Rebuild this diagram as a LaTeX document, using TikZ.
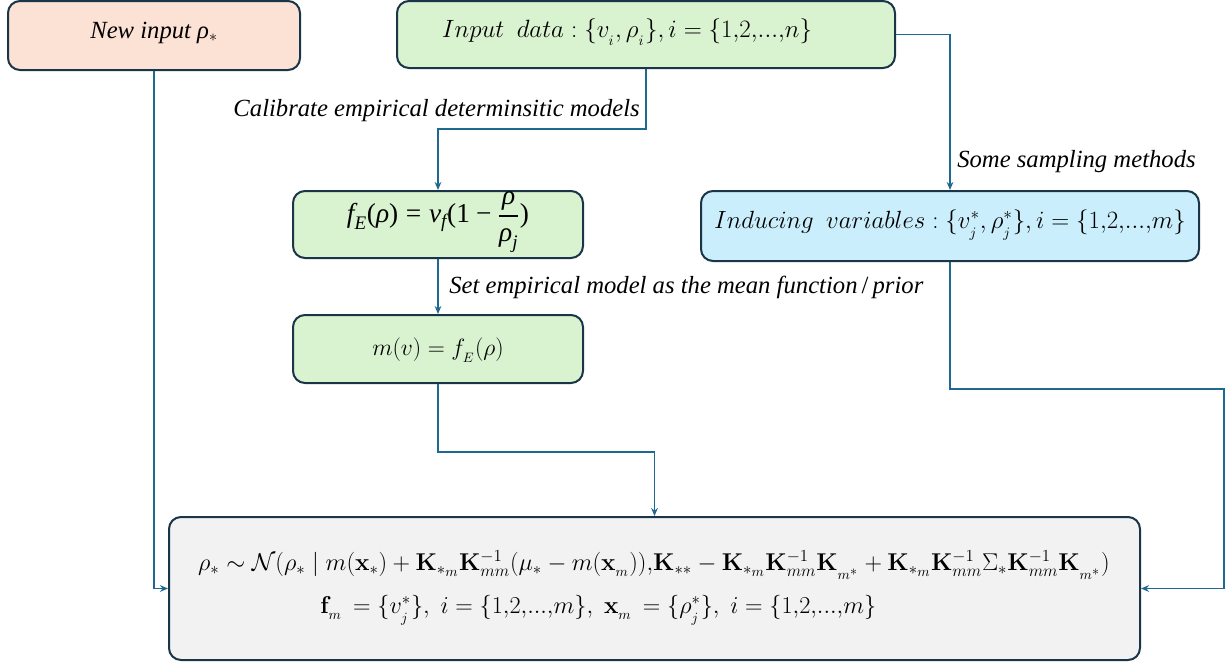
\documentclass[tikz,border=0pt]{standalone}
\usepackage{amsmath}
\usepackage[no-math]{fontspec}
\setmainfont{Liberation Serif}
\usetikzlibrary{arrows.meta}
\definecolor{bordc}{HTML}{1A3547}
\definecolor{connc}{HTML}{1F6890}
\definecolor{peach}{HTML}{FBE2D5}
\definecolor{lgreen}{HTML}{D9F2D0}
\definecolor{lblue}{HTML}{CAEEFB}
\definecolor{lgrey}{HTML}{F2F2F2}
\newcommand{\ti}[1]{\text{\rmfamily\itshape #1}}
\newcommand{\tr}[1]{\text{\rmfamily\upshape #1}}
\tikzset{
  box/.style={draw=bordc, line width=1.5pt, rounded corners=9pt, inner sep=0pt},
  conn/.style={draw=connc, line width=1.1pt, -{Stealth[length=6pt,width=5pt]}},
  lab/.style={font=\fontsize{18.5}{22}\selectfont\rmfamily\itshape, inner sep=0pt},
  mtext/.style={font=\fontsize{17.28}{21}\selectfont, inner sep=0pt},
}
\begin{document}
\begin{tikzpicture}[x=0.75pt,y=-0.75pt]
\useasboundingbox (0,0) rectangle (1227,664);
% boxes
\node[box, fill=peach, minimum width=219pt, minimum height=51.75pt] (newin) at (154,35.5) {};
\node[lab] (newint) at (154,33) {New input ρ$_*$};
\node[box, fill=lgreen, minimum width=373.5pt, minimum height=50.25pt] (indata) at (646,34.5) {};
\node[mtext] (indatat) at (627,32) {\scalebox{1.085}{$Input~~data:\{v_{_i},\rho_{_i}\},i=\{1{,}2{,}...{,}n\}$}};
\node[box, fill=lgreen, minimum width=217.5pt, minimum height=50.25pt] (fE) at (438,224.5) {};
\node[mtext, font=\fontsize{20.5}{24}\selectfont] (fEt) at (438,222) {$\ti{f}_{\ti{E}}\tr{(}\ti{ρ}\tr{)} \mathrel{\tr{=}} \ti{v}_{\ti{f}}\tr{(1}\mathbin{\tr{−}}\dfrac{\ti{ρ}}{\ti{ρ}_{\ti{j}}}\tr{)}$};
\node[box, fill=lblue, minimum width=373.5pt, minimum height=52.5pt] (induce) at (950,226) {};
\node[mtext] (inducet) at (950,225) {\scalebox{1.08}{$Inducing~~variables:\{v^*_{_j},\rho^*_{_j}\},i=\{1{,}2{,}...{,}m\}$}};
\node[box, fill=lgreen, minimum width=217.5pt, minimum height=51pt] (mv) at (438,349) {};
\node[mtext] (mvt) at (438,350) {\scalebox{1.025}{$m(v)=f_{_E}(\rho)$}};
\node[box, fill=lgrey, minimum width=728.25pt, minimum height=107.25pt] (post) at (654.5,588.5) {};
\node[mtext] (postl1) at (654,565)
  {\scalebox{1.054}{$\rho_* \sim \mathcal{N}(\rho_* \mid m(\mathbf{x}_*) + \mathbf{K}_{*_m}\mathbf{K}_{mm}^{-1}(\mu_* - m(\mathbf{x}_{_m})){,}\mathbf{K}_{**} - \mathbf{K}_{*_m}\mathbf{K}_{mm}^{-1}\mathbf{K}_{_{m^*}} + \mathbf{K}_{*_m}\mathbf{K}_{mm}^{-1}\Sigma_*\mathbf{K}_{mm}^{-1}\mathbf{K}_{_{m^*}})$}};
\node[mtext, anchor=west] (postl2) at (320,610)
  {\scalebox{1.054}{$\mathbf{f}_{_m}\,=\{v^*_{_j}\},\;i=\{1{,}2{,}...{,}m\},\;\mathbf{x}_{_m}\,=\{\rho^*_{_j}\},\;i=\{1{,}2{,}...{,}m\}$}};
% connectors
\coordinate (rc) at (1224,389);
\draw[conn] (newin.south) |- (post.west);
\draw[conn] (indata.south) -- ++(0,60) -| (fE.north);
\draw[conn] (indata.east) -| (induce.north);
\draw[conn] (fE.south) -- (mv.north);
\draw[conn] (mv.south) -- ++(0,68) -| (post.north);
\draw[conn] (induce.south) |- (rc) |- (post.east);
% labels
\node[lab, anchor=east] (l1) at (640,111) {Calibrate empirical determinsitic models};
\node[lab, anchor=west] (l2) at (957,162) {Some sampling methods};
\node[lab, anchor=west] (l3) at (449,287) {Set empirical model as the mean function\,\textup{/}\,prior};
\end{tikzpicture}
\end{document}
